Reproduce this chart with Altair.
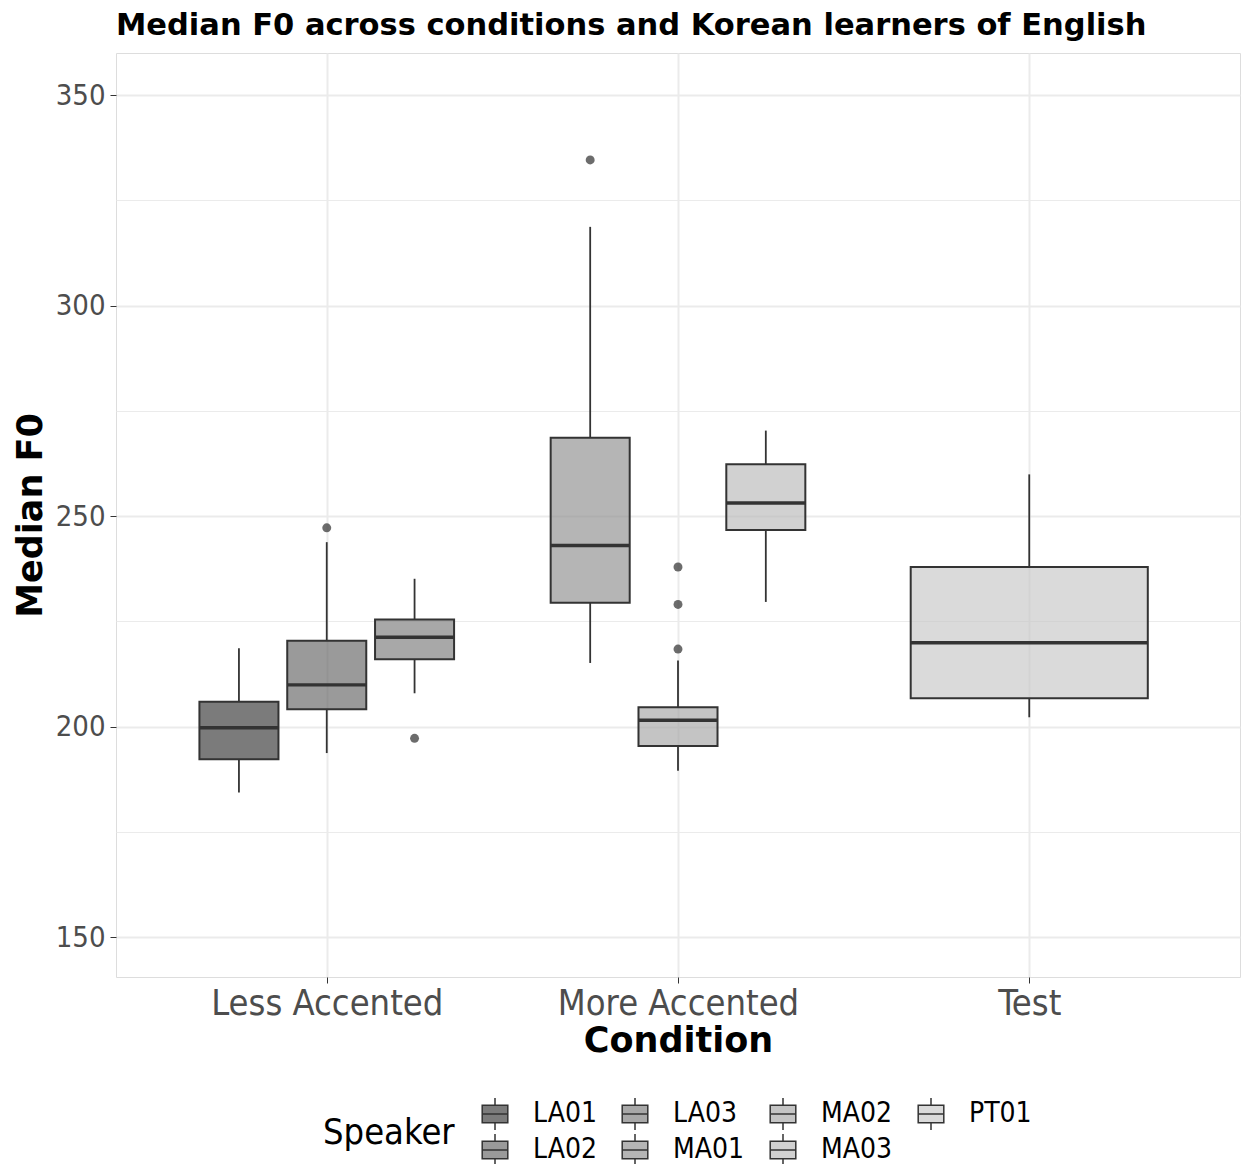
import altair as alt
import pandas as pd

# ---------------- data ----------------
conditions = ["Less Accented", "More Accented", "Test"]
speakers = ["LA01", "LA02", "LA03", "MA01", "MA02", "MA03", "PT01"]
speaker_condition = ["Less Accented", "Less Accented", "Less Accented",
                     "More Accented", "More Accented", "More Accented", "Test"]
lower_whisker = [184.3, 193.7, 207.9, 215.1, 189.5, 229.6, 202.2]
q1_values = [192.2, 204.1, 216.0, 229.4, 195.4, 246.7, 206.7]
median_values = [199.7, 209.9, 221.2, 243.0, 201.5, 253.1, 219.9]
q3_values = [205.9, 220.4, 225.4, 268.6, 204.6, 262.3, 237.9]
upper_whisker = [218.6, 243.8, 235.1, 318.7, 215.7, 270.3, 259.9]
outlier_speaker = ["LA02", "LA03", "MA01", "MA02", "MA02", "MA02"]
outlier_value = [247.2, 197.2, 334.6, 237.9, 229.0, 218.4]
y_ticks = [150, 175, 200, 225, 250, 275, 300, 325, 350]

# ---------------- styling ----------------
display_grey = [123, 154, 168, 181, 196, 209, 218]
ALPHA = 0.65
fills = ["rgba({0},{0},{0},{1})".format(round(255 - (255 - g) / ALPHA), ALPHA) for g in display_grey]
REG = "'DejaVu Sans Condensed', 'Liberation Sans', sans-serif"
BOLD = "'DejaVu Sans', sans-serif"
DARK = "#333333"

# dodge (like ggplot position_dodge2 with width 0.75, padding 0.1)
DODGE = 0.75
rows = []
for i, sp in enumerate(speakers):
    cond = speaker_condition[i]
    c = conditions.index(cond) + 1
    group = [s for s, cc in zip(speakers, speaker_condition) if cc == cond]
    n = len(group)
    k = group.index(sp)
    center = c - DODGE / 2 + DODGE * (k + 0.5) / n
    half = DODGE / n * 0.9 / 2
    rows.append(dict(speaker=sp, condition=cond, xc=center, x0=center - half, x1=center + half,
                     lower=lower_whisker[i], q1=q1_values[i], median=median_values[i],
                     q3=q3_values[i], upper=upper_whisker[i]))
box_df = pd.DataFrame(rows)
centers = dict(zip(box_df.speaker, box_df.xc))
out_df = pd.DataFrame({"speaker": outlier_speaker, "value": outlier_value,
                       "xc": [centers[s] for s in outlier_speaker]})

x_label_expr = " : ".join(
    "datum.value == {} ? '{}'".format(i + 1, c) for i, c in enumerate(conditions[:-1])
) + " : '{}'".format(conditions[-1])

x_scale = alt.Scale(domain=[0.4, 3.6], nice=False, zero=False)
y_scale = alt.Scale(domain=[140.5, 360], nice=False, zero=False)

x_axis = alt.Axis(values=[1, 2, 3], labelExpr=x_label_expr, title="Condition",
                  grid=True, gridColor="#ebebeb", gridWidth=2,
                  domain=False, tickColor=DARK, tickSize=6, tickWidth=1,
                  labelFont=REG, labelFontSize=36, labelColor="#4d4d4d", labelPadding=3,
                  labelFlush=False, labelOverlap=False, labelLimit=0,
                  titleFont=BOLD, titleFontWeight="bold", titleFontSize=35, titleColor="black",
                  titlePadding=2)
y_axis = alt.Axis(values=y_ticks, title="Median F0",
                  labelExpr="datum.value % 50 == 0 ? datum.label : ''",
                  grid=True, gridColor="#ebebeb",
                  gridWidth={"condition": {"test": "datum.value % 50 == 0", "value": 2}, "value": 1},
                  tickOpacity={"condition": {"test": "datum.value % 50 == 0", "value": 1}, "value": 0},
                  domain=False, tickColor=DARK, tickSize=6, tickWidth=1,
                  labelFont=REG, labelFontSize=29, labelColor="#4d4d4d", labelPadding=5,
                  labelFlush=False, labelOverlap=False,
                  titleFont=BOLD, titleFontWeight="bold", titleFontSize=35, titleColor="black",
                  titlePadding=7)

base = alt.Chart(box_df)

whisker_low = base.mark_rule(color=DARK, strokeWidth=1.8).encode(
    x=alt.X("xc:Q", scale=x_scale, axis=x_axis),
    y=alt.Y("lower:Q", scale=y_scale, axis=y_axis),
    y2="q1:Q",
)
whisker_high = base.mark_rule(color=DARK, strokeWidth=1.8).encode(
    x=alt.X("xc:Q", scale=x_scale),
    y=alt.Y("q3:Q", scale=y_scale),
    y2="upper:Q",
)
box_path = "M-0.8,-0.55H0.8V0.55H-0.8Z M-0.8,0H0.8 M0,-0.55V-1 M0,0.55V1"
boxes = base.mark_rect(stroke=DARK, strokeWidth=2).encode(
    x=alt.X("x0:Q", scale=x_scale),
    x2="x1:Q",
    y=alt.Y("q1:Q", scale=y_scale),
    y2="q3:Q",
    fill=alt.Fill("speaker:N", title="Speaker",
                  scale=alt.Scale(domain=speakers, range=fills),
                  legend=alt.Legend(orient="none", legendX=207, legendY=1044,
                                    columns=4, titleOrient="left",
                                    titleAnchor="middle", titleBaseline="middle",
                                    titleFont=REG, titleFontWeight="normal", titleFontSize=36,
                                    titleColor="black", titlePadding=23,
                                    labelFont=REG, labelFontSize=28, labelColor="black",
                                    labelOffset=21, symbolType=box_path, symbolSize=1024,
                                    symbolStrokeColor=DARK, symbolStrokeWidth=1.5,
                                    columnPadding=21, rowPadding=-6)),
)
medians = base.mark_rule(color=DARK, strokeWidth=3.4).encode(
    x=alt.X("x0:Q", scale=x_scale),
    x2="x1:Q",
    y=alt.Y("median:Q", scale=y_scale),
)
outliers = alt.Chart(out_df).mark_circle(color=DARK, opacity=0.72, size=80).encode(
    x=alt.X("xc:Q", scale=x_scale),
    y=alt.Y("value:Q", scale=y_scale),
)

chart = alt.layer(whisker_low, whisker_high, boxes, medians, outliers).properties(
    width=1124, height=924,
    title=alt.Title("Median F0 across conditions and Korean learners of English",
                    anchor="start", frame="group", font=BOLD, fontWeight="bold",
                    fontSize=30.5, color="black", baseline="bottom", offset=13, dy=31),
    autosize=alt.AutoSizeParams(type="none"),
    padding={"left": 116, "top": 53, "right": 1, "bottom": 187},
).configure_view(stroke=DARK, strokeWidth=1).configure(background="white")

chart.save("out.html", embed_options={"renderer": "svg", "actions": False})
